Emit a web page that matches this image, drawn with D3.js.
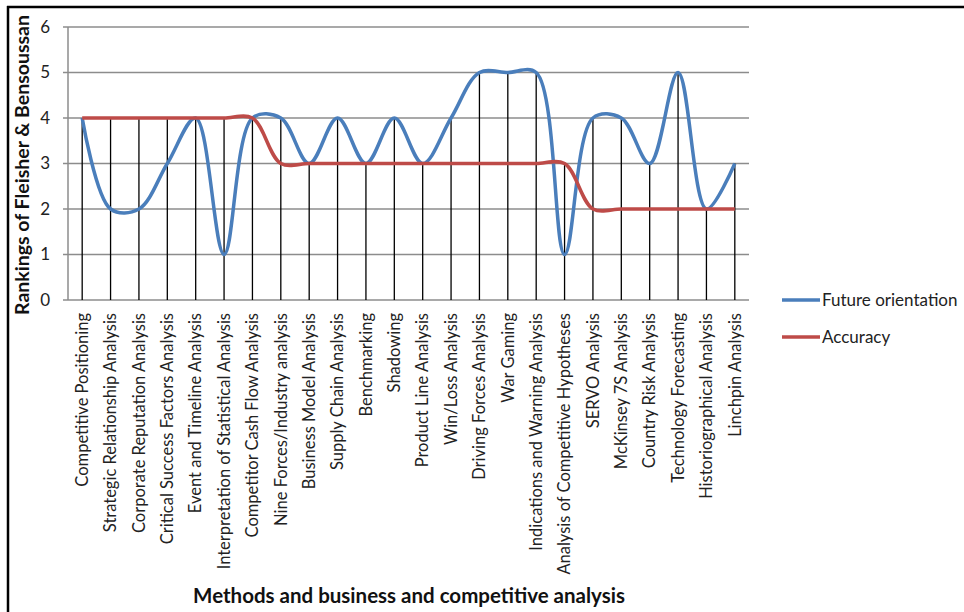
<!DOCTYPE html>
<html>
<head>
<meta charset="utf-8">
<script src="https://cdn.jsdelivr.net/npm/d3@7"></script>
<style>
  body { margin: 0; background: #fff; }
  svg { display: block; font-family: Lato, "Open Sans", sans-serif; }
</style>
</head>
<body>
<svg id="chart" width="964" height="612"></svg>
<script>
// methods (x axis categories)
const methods = [
  "Competitive Positioning", "Strategic Relationship Analysis", "Corporate Reputation Analysis",
  "Critical Success Factors Analysis", "Event and Timeline Analysis", "Interpretation of Statistical Analysis",
  "Competitor Cash Flow Analysis", "Nine Forces/Industry analysis", "Business Model Analysis",
  "Supply Chain Analysis", "Benchmarking", "Shadowing", "Product Line Analysis", "Win/Loss Analysis",
  "Driving Forces Analysis", "War Gaming", "Indications and Warning Analysis",
  "Analysis of Competitive Hypotheses", "SERVO Analysis", "McKinsey 7S Analysis", "Country Risk Analysis",
  "Technology Forecasting", "Historiographical Analysis", "Linchpin Analysis"
];
const futureOrientation = [4, 2, 2, 3, 4, 1, 4, 4, 3, 4, 3, 4, 3, 4, 5, 5, 5, 1, 4, 4, 3, 5, 2, 3];
const accuracy          = [4, 4, 4, 4, 4, 4, 4, 3, 3, 3, 3, 3, 3, 3, 3, 3, 3, 3, 2, 2, 2, 2, 2, 2];
const yTicks = [0, 1, 2, 3, 4, 5, 6];
const seriesNames = ["Future orientation", "Accuracy"];
const colors = ["#4a7ebb", "#be4b48"];

const svg = d3.select("#chart");

// frame (top + left edges only visible)
svg.append("line").attr("x1", 7).attr("x2", 964).attr("y1", 7).attr("y2", 7)
  .attr("stroke", "#000").attr("stroke-width", 2.5);
svg.append("line").attr("x1", 8).attr("x2", 8).attr("y1", 6).attr("y2", 612)
  .attr("stroke", "#000").attr("stroke-width", 2.5);

const plotL = 68, plotR = 749, plotT = 27, plotB = 300;

const x = d3.scaleBand().domain(methods).range([plotL, plotR]);
const y = d3.scaleLinear().domain([0, 6]).range([plotB, plotT]);
const cx = d => x(d) + x.bandwidth() / 2;

// gridlines
svg.append("g").selectAll("line").data(yTicks).enter().append("line")
  .attr("x1", plotL - 5).attr("x2", plotR)
  .attr("y1", d => y(d)).attr("y2", d => y(d))
  .attr("stroke", "#8c8c8c").attr("stroke-width", 1.5);

// y axis line
svg.append("line").attr("x1", plotL).attr("x2", plotL).attr("y1", y(6)).attr("y2", y(0))
  .attr("stroke", "#8c8c8c").attr("stroke-width", 1.5);

// y tick labels
svg.append("g").selectAll("text").data(yTicks).enter().append("text")
  .attr("x", 50).attr("y", d => y(d)).attr("dy", "0.35em")
  .attr("text-anchor", "end").attr("font-size", 17).attr("fill", "#222")
  .text(d => d);

// drop lines to the highest value
svg.append("g").selectAll("line").data(methods).enter().append("line")
  .attr("x1", d => cx(d)).attr("x2", d => cx(d))
  .attr("y1", y(0))
  .attr("y2", (d, i) => y(Math.max(futureOrientation[i], accuracy[i])))
  .attr("stroke", "#000").attr("stroke-width", 1.3);

// smoothed series lines
const line = d3.line()
  .x((d, i) => cx(methods[i]))
  .y(d => y(d))
  .curve(d3.curveCatmullRom.alpha(0.5));

[futureOrientation, accuracy].forEach((s, k) => {
  svg.append("path").datum(s)
    .attr("d", line)
    .attr("fill", "none")
    .attr("stroke", colors[k])
    .attr("stroke-width", 3.5)
    .attr("stroke-linejoin", "round");
});

// x tick labels
svg.append("g").selectAll("text").data(methods).enter().append("text")
  .attr("transform", d => `translate(${cx(d)},313) rotate(-90)`)
  .attr("dy", "0.35em")
  .attr("text-anchor", "end").attr("font-size", 16.5).attr("fill", "#222")
  .text(d => d);

// axis titles
svg.append("text")
  .attr("transform", "translate(22,165) rotate(-90)")
  .attr("dy", "0.35em").attr("text-anchor", "middle")
  .attr("font-size", 19.5).attr("font-weight", "bold").attr("fill", "#111")
  .text("Rankings of Fleisher & Bensoussan");

svg.append("text")
  .attr("x", 409).attr("y", 596).attr("dy", "0.35em").attr("text-anchor", "middle")
  .attr("font-size", 20.5).attr("font-weight", "bold").attr("fill", "#111")
  .text("Methods and business and competitive analysis");

// legend
const legend = svg.append("g").selectAll("g").data(seriesNames).enter().append("g")
  .attr("transform", (d, i) => `translate(782,${300 + i * 37})`);
legend.append("line").attr("x1", 0).attr("x2", 38)
  .attr("stroke", (d, i) => colors[i]).attr("stroke-width", 3.5);
legend.append("text").attr("x", 40).attr("dy", "0.35em")
  .attr("font-size", 17).attr("fill", "#222")
  .text(d => d);
</script>
</body>
</html>
